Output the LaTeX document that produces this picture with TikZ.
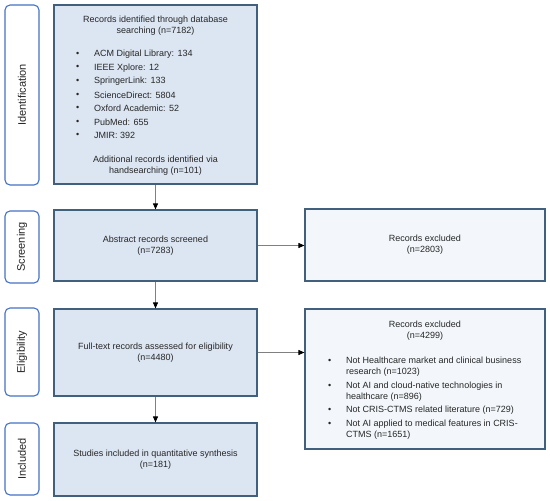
\documentclass[tikz,border=0pt]{standalone}
\usepackage{fontspec}
\setmainfont{Liberation Sans}
\usetikzlibrary{positioning,arrows.meta}
\definecolor{boxfill}{HTML}{DCE6F2}
\definecolor{boxline}{HTML}{41607D}
\definecolor{exfill}{HTML}{F3F7FB}
\definecolor{stageblue}{HTML}{4472C4}
\definecolor{flowgray}{HTML}{808080}
\definecolor{txtgray}{HTML}{262626}
\tikzset{
  stagebox/.style={draw=stageblue, line width=1.1pt, rounded corners=5pt, fill=white,
    rotate=90, minimum height=34pt, inner sep=0pt, text=txtgray, font=\fontsize{11}{13}\selectfont},
  mainbox/.style={draw=boxline, line width=1.2pt, fill=boxfill, minimum width=203pt,
    inner sep=0pt, align=center, text=txtgray, font=\fontsize{9}{11}\selectfont},
  exbox/.style={mainbox, fill=exfill, minimum width=240pt},
  txt/.style={inner sep=0pt, align=center, text=txtgray, font=\fontsize{9}{11}\selectfont},
  itemtxt/.style={txt, align=left, anchor=west},
  flow/.style={draw=flowgray, line width=0.9pt, -{Triangle[length=6pt,width=5pt,color=black]}}
}
\begin{document}
\begin{tikzpicture}[x=1pt,y=1pt,yscale=-1]
\useasboundingbox (0,0) rectangle (550,501);

%Shape: stage labels
\node[stagebox, minimum width=180pt] (lblident) at (22,95) {Identification};
\node[stagebox, minimum width=72pt] (lblscreen) at (22,247) {Screening};
\node[stagebox, minimum width=88pt] (lblelig) at (22,352) {Eligibility};
\node[stagebox, minimum width=72pt] (lblincl) at (22,459) {Included};

%Shape: main boxes
\node[mainbox, minimum height=179pt] (ident) at (155.5,94.5) {};
\node[mainbox, minimum height=71pt] (screen) at (155.5,245.5) {Abstract records screened\\(n=7283)};
\node[mainbox, minimum height=87pt] (elig) at (155.5,352.5) {Full-text records assessed for eligibility\\(n=4480)};
\node[mainbox, minimum height=73pt] (incl) at (155.5,459.5) {Studies included in quantitative synthesis\\(n=181)};

%Shape: excluded boxes
\node[exbox, minimum height=72pt] (excla) at (425,245) {Records excluded\\(n=2803)};
\node[exbox, minimum height=140pt] (exclb) at (425,379) {};

% Text Node
\node[txt] (identhead) at (155.5,25.5) {Records identified through database\\searching (n=7182)};
\foreach \src [count=\i] in {ACM Digital Library: 134, IEEE Xplore: 12, SpringerLink: 133,
    ScienceDirect: 5804, Oxford Academic: 52, PubMed: 655, JMIR: 392} {
  \node[itemtxt] (dot\i) at (76,{54.3+13.57*(\i-1)}) {\textbullet};
  \node[itemtxt] (src\i) at (94,{54.3+13.57*(\i-1)}) {\src};
}
\node[txt] (identfoot) at (155.5,166) {Additional records identified via\\handsearching (n=101)};

% Text Node
\node[txt] (exclhead) at (425,330.5) {Records excluded\\(n=4299)};
\node[itemtxt] (exdota) at (328,361) {\textbullet};
\node[itemtxt] (exa) at (346,366.5) {Not Healthcare market and clinical business\\research (n=1023)};
\node[itemtxt] (exdotb) at (328,386) {\textbullet};
\node[itemtxt] (exb) at (346,391.5) {Not AI and cloud-native technologies in\\healthcare (n=896)};
\node[itemtxt] (exdotc) at (328,410) {\textbullet};
\node[itemtxt] (exc) at (346,410) {Not CRIS-CTMS related literature (n=729)};
\node[itemtxt] (exdotd) at (328,424) {\textbullet};
\node[itemtxt] (exd) at (346,429.5) {Not AI applied to medical features in CRIS-\\CTMS (n=1651)};

%Straight Lines
\draw[flow] (ident) -- (screen);
\draw[flow] (screen) -- (elig);
\draw[flow] (elig) -- (incl);
\draw[flow] (screen.east) -- (screen.east -| excla.west);
\draw[flow] (elig.east) -- (elig.east -| exclb.west);

\end{tikzpicture}
\end{document}
